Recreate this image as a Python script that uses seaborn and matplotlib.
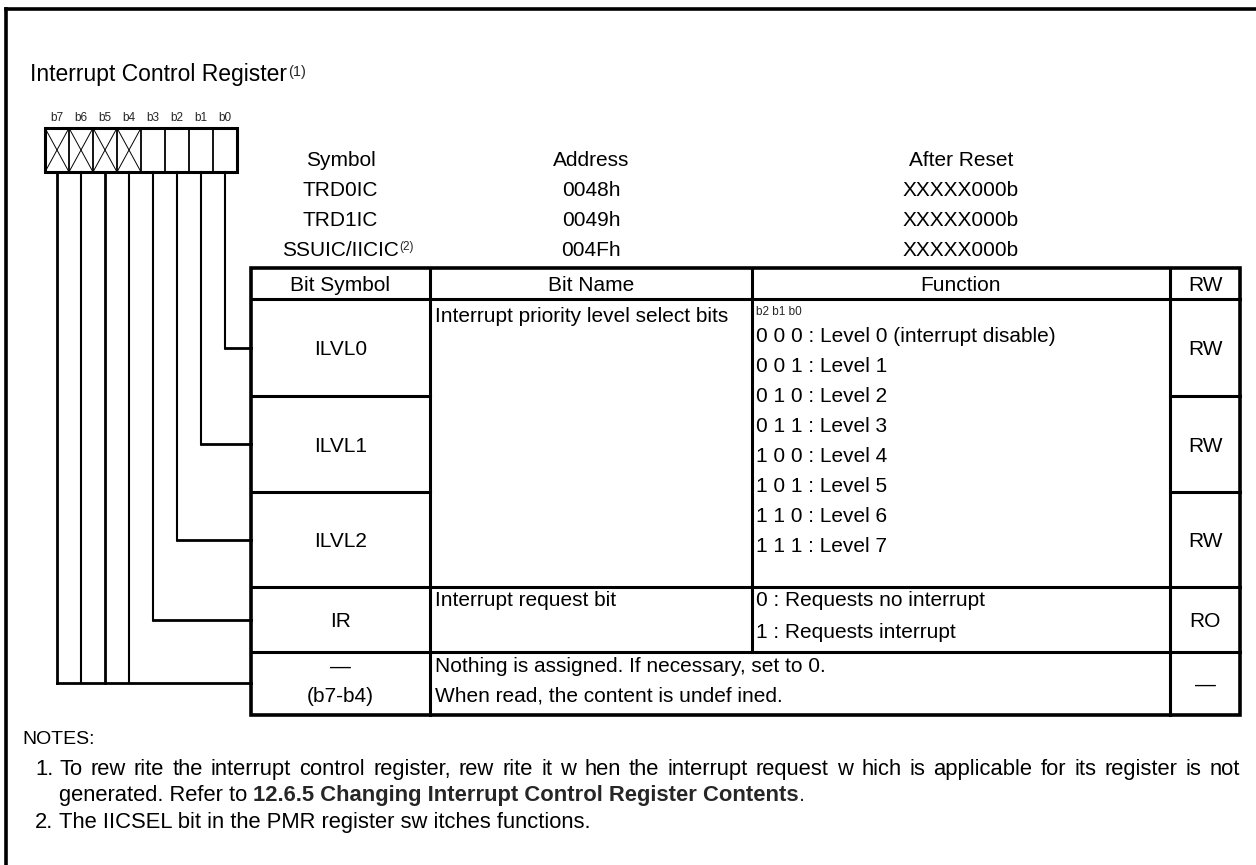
import matplotlib
matplotlib.use("Agg")
import matplotlib.pyplot as plt
import seaborn as sns

sns.set_theme(style="white")
plt.rcParams['font.family'] = ['Liberation Sans', 'DejaVu Sans']

# register content
title = "Interrupt Control Register"
title_note = "(1)"
bit_labels = ["b7", "b6", "b5", "b4", "b3", "b2", "b1", "b0"]
reserved = [True, True, True, True, False, False, False, False]

header_cols = ["Symbol", "Address", "After Reset"]
symbols = ["TRD0IC", "TRD1IC", "SSUIC/IICIC"]
symbol_notes = ["", "", "(2)"]
addresses = ["0048h", "0049h", "004Fh"]
resets = ["XXXXX000b", "XXXXX000b", "XXXXX000b"]

table_cols = ["Bit Symbol", "Bit Name", "Function", "RW"]
bit_symbols = ["ILVL0", "ILVL1", "ILVL2", "IR", "\u2014"]
rw_values = ["RW", "RW", "RW", "RO", "\u2014"]
ilvl_name = "Interrupt priority level select bits"
level_codes = ["0 0 0", "0 0 1", "0 1 0", "0 1 1", "1 0 0", "1 0 1", "1 1 0", "1 1 1"]
level_names = ["Level 0 (interrupt disable)", "Level 1", "Level 2", "Level 3",
               "Level 4", "Level 5", "Level 6", "Level 7"]
ir_name = "Interrupt request bit"
ir_func = ["0 : Requests no interrupt", "1 : Requests interrupt"]
empty_range = "(b7-b4)"
empty_text = ["Nothing is assigned. If necessary, set to 0.",
              "When read, the content is undef ined."]

notes_head = "NOTES:"
note1_a = "To rew rite the interrupt control register, rew rite it w hen the interrupt request w hich is applicable for its register is not"
note1_b = "generated. Refer to "
note1_bold = "12.6.5 Changing Interrupt Control Register Contents"
note2 = "The IICSEL bit in the PMR register sw itches functions."

# layout (pixels)
W, H = 1256, 865
fig = plt.figure(figsize=(W / 100, H / 100), dpi=100)
ax = fig.add_axes([0, 0, 1, 1])
ax.set_xlim(0, W)
ax.set_ylim(H, 0)
ax.axis('off')
renderer = fig.canvas.get_renderer()

FS = 15
K = 'black'


def line(xs, ys, lw=2.2):
    ax.plot(xs, ys, color=K, lw=lw, solid_capstyle='projecting')


def txt(x, y, s, size=FS, ha='center', **kw):
    # y is the visual middle of capitals
    return ax.text(x, y + 0.36 * size * 100 / 72, s, fontsize=size, ha=ha,
                   va='baseline', color=K, **kw)


def justified(x0, x1, y, s, size):
    # spread the words of one line evenly between x0 and x1
    words = s.split(' ')
    items = [txt(x0, y, w, size=size, ha='left') for w in words]
    widths = [it.get_window_extent(renderer).width for it in items]
    gap = (x1 - x0 - sum(widths)) / (len(words) - 1)
    x = x0
    for it, w in zip(items, widths):
        it.set_x(x)
        x += w + gap


# frame
line([6, 6], [865, 9], lw=2.6)
line([6, 1256], [9, 9], lw=2.6)

# title
t = txt(30, 73, title, size=16.5, ha='left')
ax.annotate(title_note, xy=(1, 1), xycoords=t, xytext=(0.5, -1), textcoords='offset points',
            fontsize=10.5, ha='left', va='top')

# register boxes
cell_w, bx0, by0, by1 = 24, 45, 128, 172
for i, (lab, res) in enumerate(zip(bit_labels, reserved)):
    x0 = bx0 + i * cell_w
    ax.text(x0 + cell_w / 2, 121, lab, fontsize=8.5, ha='center', va='baseline')
    if i > 0:
        line([x0, x0], [by0, by1], lw=1.3)
    if res:
        ax.plot([x0, x0 + cell_w], [by0, by1], color=K, lw=0.7)
        ax.plot([x0, x0 + cell_w], [by1, by0], color=K, lw=0.7)
ax.add_patch(plt.Rectangle((bx0, by0), cell_w * 8, by1 - by0, fill=False, lw=2.2, ec=K))

# table geometry
tx0, c1, c2, c3, tx1 = 251, 430, 752, 1170, 1240
ty0, ty_h = 268, 299
row_edges = [299, 396, 492, 587, 652, 715]
row_mid = [(a + b) / 2 for a, b in zip(row_edges[:-1], row_edges[1:])]

# leader lines from bits to rows
leader_targets = [683, 683, 683, 683, row_mid[3], row_mid[2], row_mid[1], row_mid[0]]
for i, yt in enumerate(leader_targets):
    xc = bx0 + i * cell_w + cell_w / 2
    line([xc, xc], [by1, yt], lw=2.0 if i in (0, 2) else 1.5)
    if i == 0 or i >= 4:
        line([xc, tx0], [yt, yt], lw=2.0)

# header info above table
col_centers = [(tx0 + c1) / 2, (c1 + c2) / 2, (c2 + c3) / 2, (c3 + tx1) / 2]
info_rows = [158, 188, 218, 248]
for x, h in zip(col_centers[:3], header_cols):
    txt(x, info_rows[0], h)
for j in range(3):
    ts = txt(col_centers[0], info_rows[j + 1], symbols[j])
    if symbol_notes[j]:
        ax.annotate(symbol_notes[j], xy=(1, 1), xycoords=ts, xytext=(0.3, -0.5),
                    textcoords='offset points', fontsize=8.5, ha='left', va='top')
    txt(col_centers[1], info_rows[j + 1], addresses[j])
    txt(col_centers[2], info_rows[j + 1], resets[j])

# table frame and grid
ax.add_patch(plt.Rectangle((tx0, ty0), tx1 - tx0, row_edges[-1] - ty0, fill=False, lw=2.6, ec=K))
line([c1, c1], [ty0, row_edges[-1]])
line([c2, c2], [ty0, row_edges[4]])
line([c3, c3], [ty0, row_edges[-1]])
for y in (ty_h, row_edges[3], row_edges[4]):
    line([tx0, tx1], [y, y])
for y in (row_edges[1], row_edges[2]):
    line([tx0, c1], [y, y])
    line([c3, tx1], [y, y])

# header row
for x, h in zip(col_centers, table_cols):
    txt(x, (ty0 + ty_h) / 2, h)

# bit symbol and rw columns
for k in range(4):
    txt(col_centers[0], row_mid[k], bit_symbols[k])
    txt(col_centers[3], row_mid[k], rw_values[k])
txt(col_centers[0], 665, bit_symbols[4])
txt(col_centers[0], 694, empty_range)
txt(col_centers[3], row_mid[4], rw_values[4])

# bit names and functions
nx, fx = c1 + 5, c2 + 4
txt(nx, 314, ilvl_name, ha='left')
ax.text(fx, 315, "b2 b1 b0", fontsize=8.5, ha='left', va='baseline')
for i, (code, name) in enumerate(zip(level_codes, level_names)):
    txt(fx, 335 + 30 * i, f"{code} : {name}", ha='left')
txt(nx, 598, ir_name, ha='left')
for i, s in enumerate(ir_func):
    txt(fx, 599 + 31 * i, s, ha='left')
for i, s in enumerate(empty_text):
    txt(nx, 665 + 29 * i, s, ha='left')

# notes
NF = 15.8
txt(22, 737, notes_head, size=14, ha='left')
txt(35, 767, "1.", size=NF, ha='left')
justified(59, 1240, 767, note1_a, NF)
tb = txt(59, 793, note1_b, size=NF, ha='left')
tbb = ax.annotate(note1_bold, xy=(1, 0), xycoords=tb, fontsize=NF, fontweight='bold',
                  ha='left', va='bottom')
ax.annotate(".", xy=(1, 0), xycoords=tbb, fontsize=NF, ha='left', va='bottom')
txt(35, 820, "2.", size=NF, ha='left')
txt(59, 820, note2, size=NF, ha='left')

fig.savefig("out.png", dpi=100, facecolor='white')
